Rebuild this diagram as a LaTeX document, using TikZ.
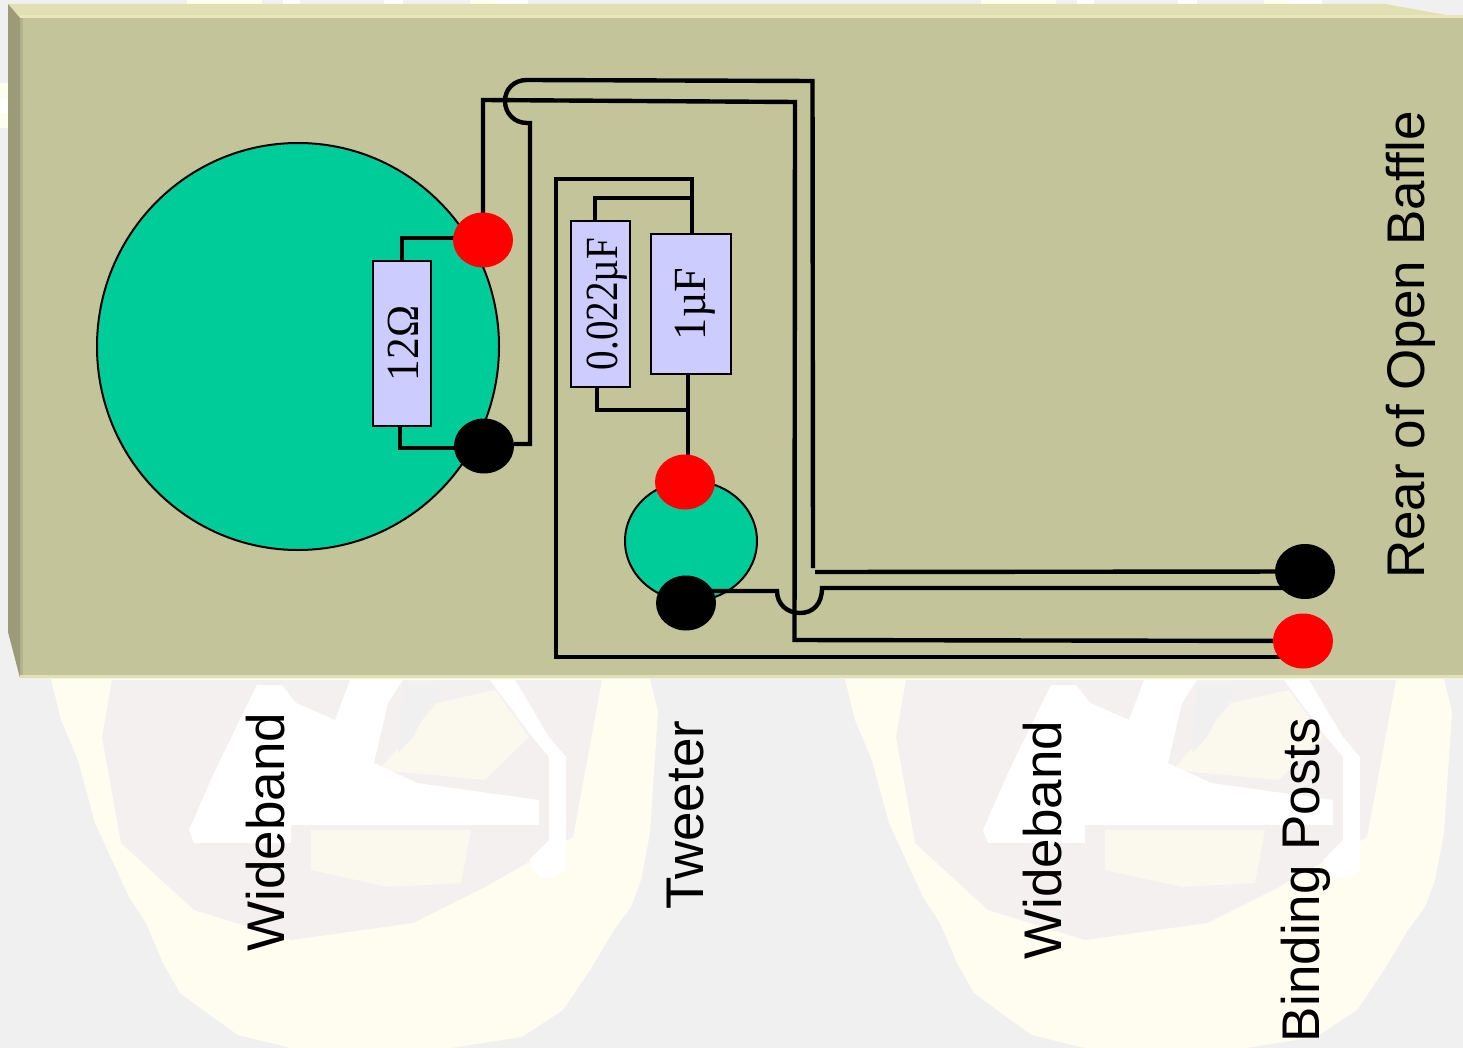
\documentclass[tikz,border=0pt]{standalone}
\usepackage{fontspec}
\usepackage{graphicx}
\setsansfont{Liberation Sans}
\newfontfamily\valfont{Liberation Serif}
\usetikzlibrary{shapes.geometric}
\pgfdeclarelayer{dots}
\pgfsetlayers{main,dots}
\definecolor{pagegrey}{HTML}{F0F0F0}
\definecolor{markcream}{HTML}{FFFDF0}
\definecolor{markpink}{HTML}{F5F0F0}
\definecolor{marksoft}{HTML}{FBF8EE}
\definecolor{baffle}{HTML}{C3C49A}
\definecolor{baffletop}{HTML}{E1E0B2}
\definecolor{bafflelit}{HTML}{E8E8BC}
\definecolor{baffleside}{HTML}{9C9B78}
\definecolor{bafflefold}{HTML}{B3B38E}
\definecolor{cone}{HTML}{00CC99}
\definecolor{part}{HTML}{CCCCFF}
% scale along the text, space before it, text
\newcommand{\vallabel}[3]{\hspace*{#2}\rotatebox{90}{\scalebox{#1}[1]{\valfont\fontsize{46}{46}\selectfont #3}}}
\begin{document}
\begin{tikzpicture}[x=1pt,y=-1pt,line join=miter]
    % Block styles
    \tikzset{
        sidelabel/.style={font=\sffamily\fontsize{53}{60}\selectfont, rotate=90, inner sep=0pt},
        driver/.style={ellipse, draw, line width=2pt, fill=cone, inner sep=0pt},
        post/.style={ellipse, fill=#1, minimum width=60pt, minimum height=55pt, inner sep=0pt},
        valuebox/.style={rectangle, draw, line width=1.5pt, fill=part, inner sep=0pt},
        wire/.style={line width=4.4pt},
        watermark/.pic={
            \fill[markcream] (51,679) -- (61,720) -- (78,760) -- (95,823) -- (112,860) -- (129,897) -- (146,923) -- (163,963) -- (180,993) -- (214,1018) -- (238,1035) -- (291,1048) -- (451,1048) -- (522,1037) -- (563,1010) -- (590,970) -- (614,930) -- (631,907) -- (641,880) -- (650,833) -- (658,712) -- (650,679) -- cycle;
            \fill[markpink] (112,680) -- (602,680) -- (573,837) -- (485,887) -- (413,923) -- (291,940) -- (194,910) -- (121,843) -- (102,737) -- cycle;
            \fill[marksoft] (311,830) -- (471,830) -- (461,883) -- (388,887) -- (311,870) -- cycle;
            \fill[marksoft] (437,703) -- (495,690) -- (529,737) -- (485,780) -- (379,770) -- cycle;
            \fill[pagegrey] (398,753) -- (413,737) -- (427,710) -- (444,687) -- (403,683) -- cycle;
            \fill[white] (257,685) -- (282,685) -- (296,703) -- (335,720) -- (350,680) -- (403,680) -- (388,703) -- (374,763) -- (417,783) -- (539,800) -- (539,825) -- (291,825) -- (291,843) -- (194,843) -- (189,830) -- (214,773) -- (248,703) -- cycle;
            \fill[white] (490,680) -- (515,680) -- (549,737) -- (566,757) -- (566,870) -- (553,878) -- (539,878) -- (529,860) -- (549,840) -- (549,757) -- (529,733) -- cycle;
            % what shows above the baffle
            \fill[markcream] (187,0) rectangle (528,4);
            \fill[markpink] (262,0) rectangle (470,4);
            \fill[white] (283,0) rectangle (300,4);
            \fill[white] (384,0) rectangle (403,4);
            \fill[white] (495,0) rectangle (528,4);
        }
    }
    \useasboundingbox (0,0) rectangle (1463,1048);
    % Page and baffle
    \fill[pagegrey] (0,0) rectangle (1463,1048);
    \pic at (0,0) {watermark};
    \pic at (794,0) {watermark};
    \fill[markcream] (0,83) rectangle (8,128);
    \fill[white] (0,98) rectangle (8,113);
    \fill[baffle] (20,18) rectangle (1463,678);
    \fill[bafflefold] (20,18) rectangle (23,678);
    \fill[baffletop] (8,4) -- (1385,4) -- (1463,18) -- (20,18) -- cycle;
    \fill[bafflelit] (20,15.5) rectangle (1463,18);
    \fill[baffleside] (8,4) -- (20,18) -- (20,678) -- (8,632) -- cycle;
    \fill[baffletop] (20,675) rectangle (1463,678);
    % Drivers and parts
    \node[driver, minimum width=402pt, minimum height=407pt] (woofer) at (298,346.5) {};
    \node[driver, minimum width=132pt, minimum height=120pt] (tweeter) at (691,541) {};
    \node[valuebox, minimum width=58pt, minimum height=165pt] (res_twelve) at (402,343.5) {\vallabel{0.94}{2pt}{12Ω}};
    \node[valuebox, minimum width=59pt, minimum height=166pt] (cap_small) at (600.5,304) {\vallabel{0.85}{14pt}{0.022µF}};
    \node[valuebox, minimum width=80pt, minimum height=140pt] (cap_big) at (691,304) {\vallabel{0.96}{8pt}{1µF}};
    \begin{pgfonlayer}{dots}
        \node[post=red] (woofer_red) at (483,240) {};
        \node[post=black] (woofer_black) at (484,446) {};
        \node[post=red] (tweeter_red) at (685,482) {};
        \node[post=black] (tweeter_black) at (686,603) {};
        \node[post=black] (post_black) at (1305,571.5) {};
        \node[post=red] (post_red) at (1303,641) {};
    \end{pgfonlayer}
    % Labels
    \node[sidelabel] (lab_wide_a) at (266,832) {Wideband};
    \node[sidelabel] (lab_tweet) at (686,815) {Tweeter};
    \node[sidelabel] (lab_wide_b) at (1043,840) {Wideband};
    \node[sidelabel] (lab_posts) at (1306,880) {Binding Posts};
    \node[sidelabel] (lab_rear) at (1411,345) {Rear of Open Baffle};
    % Connection points
    \coordinate (hop_top) at (527,80);
    \coordinate (hop_low) at (527,123);
    \coordinate (wf_corner) at (530,444);
    \coordinate (res_low) at (400,426);
    \coordinate (res_foot) at (400,448);
    \coordinate (res_head) at (402,238);
    \coordinate (small_low) at (597,387);
    \coordinate (small_foot) at (597,410);
    \coordinate (small_top) at (595,221);
    \coordinate (small_head) at (595,198);
    \coordinate (big_top) at (692,234);
    \coordinate (big_low) at (688,374);
    \coordinate (big_tee) at (688,410);
    \coordinate (feed_top) at (692,179);
    \coordinate (feed_low) at (556,657);
    \coordinate (feed_end) at (1303,657);
    \coordinate (red_turn) at (794.5,640);
    \coordinate (black_turn) at (812.5,81);
    \coordinate (hop_a) at (777,591);
    \coordinate (hop_b) at (822,588);
    % Connections
    \draw[wire] (woofer_red.center) -- (483,100) -- (795,102) -- (red_turn) -- (post_red.center);
    \draw[wire] (woofer_black.east |- wf_corner) -- (wf_corner) -- (530,123) -- (hop_low) .. controls (514,123) and (505,113) .. (505,101) .. controls (505,89) and (514,80) .. (hop_top) -- (black_turn) -- (813,568);
    \draw[wire] (815,572) -- (post_black.center);
    \draw[wire] (tweeter_black.center |- hop_a) -- (hop_a) .. controls (777,604) and (787,613) .. (800,613) .. controls (813,613) and (822,604) .. (hop_b) -- (post_black.center |- hop_b);
    \draw[wire] (woofer_red.center |- res_head) -- (res_head) -- (res_twelve.north);
    \draw[wire] (res_low) -- (res_foot) -- (woofer_black.center |- res_foot);
    \draw[wire] (feed_end) -- (feed_low) -- (556,179) -- (feed_top) -- (big_top);
    \draw[wire] (692,198) -- (small_head) -- (small_top);
    \draw[wire] (big_low) -- (big_low |- tweeter_red.center);
    \draw[wire] (big_tee) -- (small_foot) -- (small_low);
\end{tikzpicture}
\end{document}
